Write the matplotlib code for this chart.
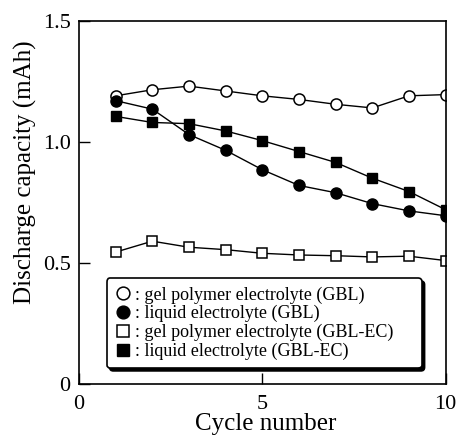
import matplotlib
matplotlib.use("Agg")
import matplotlib.pyplot as plt

plt.rcParams['font.family'] = ['Liberation Serif', 'DejaVu Serif']

# cycle numbers and discharge capacity (mAh)
cycles = [1, 2, 3, 4, 5, 6, 7, 8, 9, 10]
gel_gbl = [1.19, 1.215, 1.23, 1.21, 1.19, 1.175, 1.155, 1.14, 1.19, 1.195]
liq_gbl = [1.17, 1.135, 1.03, 0.965, 0.885, 0.82, 0.79, 0.745, 0.715, 0.695]
gel_gblec = [0.545, 0.59, 0.565, 0.555, 0.54, 0.533, 0.53, 0.525, 0.528, 0.51]
liq_gblec = [1.105, 1.08, 1.075, 1.045, 1.005, 0.96, 0.915, 0.85, 0.795, 0.72]

labels = [": gel polymer electrolyte (GBL)",
          ": liquid electrolyte (GBL)",
          ": gel polymer electrolyte (GBL-EC)",
          ": liquid electrolyte (GBL-EC)"]

fig = plt.figure(figsize=(4.58, 4.36), dpi=100)
ax = fig.add_axes([0.1725, 0.119, 0.8005, 0.8335])

ax.plot(cycles, gel_gbl, '-o', color='black', mfc='white', mec='black',
        ms=8, lw=1.0, mew=1.1, label=labels[0])
ax.plot(cycles, liq_gbl, '-o', color='black', mfc='black',
        ms=8, lw=1.0, label=labels[1])
ax.plot(cycles, gel_gblec, '-s', color='black', mfc='white', mec='black',
        ms=7.5, lw=1.0, mew=1.1, label=labels[2])
ax.plot(cycles, liq_gblec, '-s', color='black', mfc='black',
        ms=7.5, lw=1.0, label=labels[3])

ax.set_xlim(0, 10)
ax.set_ylim(0, 1.5)
ax.set_xticks([0, 5, 10])
ax.set_xticklabels(["0", "5", "10"])
ax.set_yticks([0, 0.5, 1.0, 1.5])
ax.set_yticklabels(["0", "0.5", "1.0", "1.5"])
ax.tick_params(direction='in', length=8, width=1, labelsize=16,
               top=False, right=False)
ax.tick_params(axis='x', pad=8)
ax.tick_params(axis='y', pad=6)
for s in ax.spines.values():
    s.set_linewidth(1.2)

ax.set_xlabel("Cycle number", fontsize=18, va='top')
ax.xaxis.set_label_coords(0.51, -0.08)
ax.set_ylabel("Discharge capacity (mAh)", fontsize=18)
ax.yaxis.set_label_coords(-0.114, 0.583)

leg = ax.legend(loc='lower left', bbox_to_anchor=(0.076, 0.044, 0.859, 0.256),
                mode='expand', fontsize=13, handlelength=0.9, handletextpad=0.2,
                labelspacing=0.08, borderpad=0.45, fancybox=True, markerscale=1.15,
                shadow={'color': 'black', 'alpha': 1}, framealpha=1,
                edgecolor='black', borderaxespad=0)
leg.get_frame().set_linewidth(1.2)
for h in leg.legend_handles:
    h.set_linestyle('none')

fig.savefig("out.png", dpi=100)
